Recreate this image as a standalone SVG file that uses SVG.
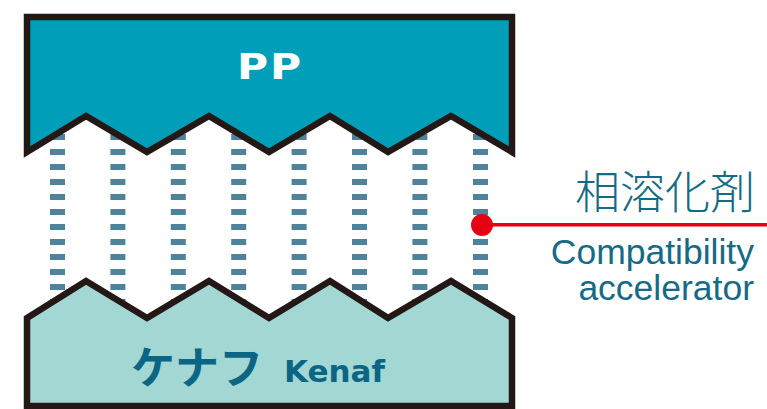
<svg xmlns="http://www.w3.org/2000/svg" width="767" height="409" viewBox="0 0 767 409">
<style>
.dash{stroke:#4F839C;stroke-width:15;stroke-dasharray:6 9;fill:none}
.shape{stroke:#231815;stroke-width:6.5;stroke-linejoin:miter}
.cjk{font-family:"Noto Sans CJK JP","Noto Sans",sans-serif}
.lat{font-family:"Liberation Sans",Arial,sans-serif}
</style>
<rect width="767" height="409" fill="#fff"/>
<g id="connectors">
<g id="accelerator-dashes">
<line class="dash" x1="57.5" y1="104" x2="57.5" y2="320"/>
<line class="dash" x1="117.9" y1="104" x2="117.9" y2="320"/>
<line class="dash" x1="178.3" y1="104" x2="178.3" y2="320"/>
<line class="dash" x1="238.7" y1="104" x2="238.7" y2="320"/>
<line class="dash" x1="299.1" y1="104" x2="299.1" y2="320"/>
<line class="dash" x1="359.5" y1="104" x2="359.5" y2="320"/>
<line class="dash" x1="419.9" y1="104" x2="419.9" y2="320"/>
<line class="dash" x1="480.5" y1="104" x2="480.5" y2="320"/>
</g>
<line x1="482" y1="224.8" x2="767" y2="224.8" stroke="#E60012" stroke-width="3.5"/>
<circle cx="482" cy="225" r="11" fill="#E60012"/>
</g>
<g id="pp">
<polygon class="shape" fill="#009EB9" points="27,17 512,17 512,152 451,116 388,152 330,116 269,152 209,116 147,152 86,116 27,152"/>
<text transform="translate(270,79) scale(1.18,1)" x="0" y="0" text-anchor="middle" fill="#fff" font-family="DejaVu Sans,sans-serif" font-weight="bold" font-size="36" letter-spacing="1.5">PP</text>
</g>
<g id="kenaf">
<polygon class="shape" fill="#A3D7D3" points="27,318 86,281 147,318 209,281 269,318 330,281 388,318 451,281 512,318 512,406 27,406"/>
<text x="131" y="384" class="cjk" fill="#0B6584" font-weight="bold" font-size="44">ケナフ</text>
<text x="284" y="382" fill="#0B6584" font-family="DejaVu Sans,sans-serif" font-weight="bold" font-size="31">Kenaf</text>
</g>
<g id="label">
<text x="755" y="209" text-anchor="end" class="cjk" fill="#156B85" font-size="45" font-weight="300">相溶化剤</text>
<text x="754" y="264" text-anchor="end" class="lat" fill="#156B85" font-size="35.5">Compatibility</text>
<text x="754" y="300" text-anchor="end" class="lat" fill="#156B85" font-size="35.5">accelerator</text>
</g>
</svg>
